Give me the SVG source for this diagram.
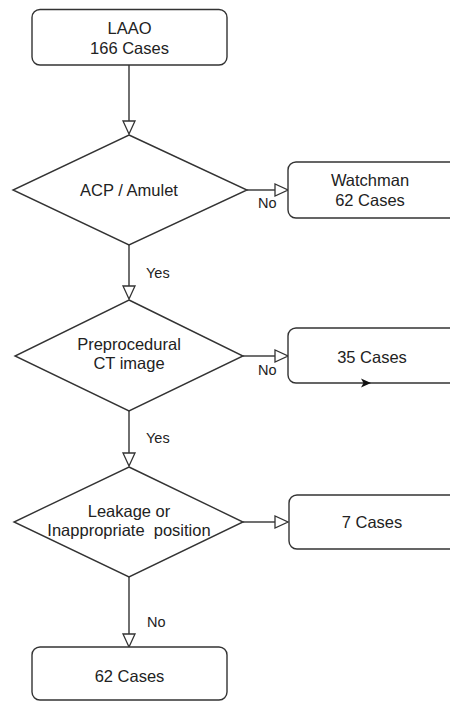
<svg xmlns="http://www.w3.org/2000/svg" width="450" height="701" viewBox="0 0 450 701">
<style>
.box{fill:#fff;stroke:#333;stroke-width:1.4}
.dia{fill:#fff;stroke:#333;stroke-width:1.4}
.t{font-family:"Liberation Sans",Arial,sans-serif;font-size:16.5px;fill:#222;text-anchor:middle}
.l{font-family:"Liberation Sans",Arial,sans-serif;font-size:14.5px;fill:#222}
.ln{stroke:#333;stroke-width:1.4;fill:none}
.ah{fill:#fff;stroke:#333;stroke-width:1.3}
</style>
<rect width="450" height="701" fill="#fff"/>
<g id="connectors">
<line class="ln" x1="129" y1="65" x2="129" y2="121"/>
<polygon class="ah" points="123,121 135,121 129,134"/>
<line class="ln" x1="247" y1="190" x2="275" y2="190"/>
<polygon class="ah" points="275,184 275,196 288,190"/>
<text class="l" x="258" y="208">No</text>
<line class="ln" x1="129" y1="245" x2="129" y2="286"/>
<polygon class="ah" points="123,286 135,286 129,299"/>
<text class="l" x="146" y="278">Yes</text>
<line class="ln" x1="243" y1="356" x2="275" y2="356"/>
<polygon class="ah" points="275,350 275,362 288,356"/>
<text class="l" x="258" y="375">No</text>
<line class="ln" x1="129" y1="411" x2="129" y2="453"/>
<polygon class="ah" points="123,453 135,453 129,466"/>
<text class="l" x="146" y="443">Yes</text>
<line class="ln" x1="243" y1="522" x2="275" y2="522"/>
<polygon class="ah" points="275,516 275,528 288,522"/>
<line class="ln" x1="129" y1="577" x2="129" y2="634"/>
<polygon class="ah" points="123,634 135,634 129,647"/>
<text class="l" x="147" y="627">No</text>
</g>
<g id="n-laao">
<rect class="box" x="32" y="9.5" width="195" height="55.5" rx="8"/>
<text class="t" x="129.5" y="34">LAAO</text>
<text class="t" x="129.5" y="54">166 Cases</text>
</g>
<g id="d-acp">
<polygon class="dia" points="129,135 247,190 129,245 13,190"/>
<text class="t" x="129" y="196">ACP / Amulet</text>
</g>
<g id="n-watchman">
<rect class="box" x="288" y="162" width="175" height="56" rx="8"/>
<text class="t" x="370" y="186">Watchman</text>
<text class="t" x="370" y="206">62 Cases</text>
</g>
<g id="d-ct">
<polygon class="dia" points="129,300 243,356 129,411 15,356"/>
<text class="t" x="129" y="350">Preprocedural</text>
<text class="t" x="129" y="369">CT image</text>
</g>
<g id="n-35">
<rect class="box" x="288" y="328" width="175" height="55" rx="8"/>
<text class="t" x="372" y="363">35 Cases</text>
<polygon points="361,378.5 371,383 361,387.5 363.5,383" fill="#111"/>
</g>
<g id="d-leak">
<polygon class="dia" points="129,467 243,522 129,577 14,522"/>
<text class="t" x="129" y="517">Leakage or</text>
<text class="t" x="129" y="536" xml:space="preserve">Inappropriate  position</text>
</g>
<g id="n-7">
<rect class="box" x="289" y="495" width="175" height="54" rx="8"/>
<text class="t" x="372" y="528">7 Cases</text>
</g>
<g id="n-62">
<rect class="box" x="32" y="647" width="195" height="53" rx="8"/>
<text class="t" x="129.5" y="682">62 Cases</text>
</g>
</svg>
